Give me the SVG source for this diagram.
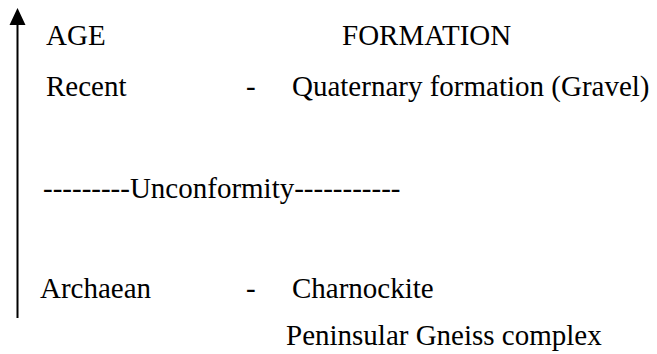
<svg xmlns="http://www.w3.org/2000/svg" width="657" height="354" viewBox="0 0 657 354">
  <style>
    .lbl { font-family: 'Liberation Serif', 'Times New Roman', serif; font-size: 29px; fill: #000000; }
  </style>
  <rect width="657" height="354" fill="#ffffff"/>
  <g id="connectors">
    <line x1="17.5" y1="318" x2="17.5" y2="24" stroke="#000000" stroke-width="2"/>
    <path d="M17.5,8 L25.5,25 L9.5,25 Z" fill="#000000"/>
  </g>
  <g id="header">
    <text class="lbl" x="46" y="45" font-family="Liberation Serif">AGE</text>
    <text class="lbl" x="342" y="45" font-family="Liberation Serif">FORMATION</text>
  </g>
  <g id="recent">
    <text class="lbl" x="46" y="96" font-family="Liberation Serif">Recent</text>
    <text class="lbl" x="246" y="96" font-family="Liberation Serif">-</text>
    <text class="lbl" x="292" y="96" font-family="Liberation Serif">Quaternary formation (Gravel)</text>
  </g>
  <g id="unconformity">
    <text class="lbl" x="43" y="198" font-family="Liberation Serif">---------Unconformity-----------</text>
  </g>
  <g id="archaean">
    <text class="lbl" x="40" y="298" font-family="Liberation Serif">Archaean</text>
    <text class="lbl" x="246" y="298" font-family="Liberation Serif">-</text>
    <text class="lbl" x="292" y="298" font-family="Liberation Serif">Charnockite</text>
    <text class="lbl" x="286" y="345" font-family="Liberation Serif">Peninsular Gneiss complex</text>
  </g>
</svg>
